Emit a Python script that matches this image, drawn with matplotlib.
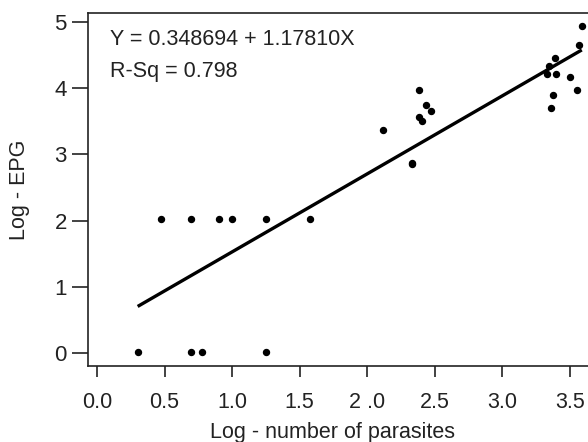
import numpy as np
import matplotlib.pyplot as plt

plt.rcParams['font.family'] = ['Liberation Sans', 'DejaVu Sans']

# log number of parasites / log EPG
log_parasites = [0.301, 0.477, 0.699, 0.903, 1.0, 1.255, 1.58,
                 0.699, 0.778, 1.255,
                 2.121, 2.336, 2.336, 2.385, 2.385, 2.405, 2.435, 2.472,
                 3.336, 3.348, 3.361, 3.376, 3.388, 3.400, 3.499, 3.553,
                 3.573, 3.590]
log_epg = [0.02, 2.02, 2.02, 2.02, 2.02, 2.02, 2.02,
           0.02, 0.02, 0.02,
           3.37, 2.87, 2.86, 3.97, 3.57, 3.51, 3.75, 3.65,
           4.22, 4.34, 3.70, 3.90, 4.46, 4.21, 4.17, 3.97,
           4.66, 4.94]

intercept = 0.348694
slope = 1.17810
fit_x = np.array([0.301, 3.590])

xticks = [0.0, 0.5, 1.0, 1.5, 2.0, 2.5, 3.0, 3.5]
xticklabels = ['0.0', '0.5', '1.0', '1.5', '2 .0', '2.5', '3.0', '3.5']
yticks = [0, 1, 2, 3, 4, 5]

fig = plt.figure(figsize=(5.88, 4.42), dpi=100)
ax = fig.add_axes([0.1497, 0.172, 0.865, 0.7986])

ax.plot(fit_x, intercept + slope * fit_x, color='black', linewidth=2.4, solid_capstyle='butt')
ax.plot(log_parasites, log_epg, 'o', color='black', markersize=4.3)

ax.set_xlim(-0.0667, 3.7)
ax.set_ylim(-0.196, 5.136)
ax.set_xticks(xticks)
ax.set_xticklabels(xticklabels)
ax.set_yticks(yticks)

for s in ax.spines.values():
    s.set_linewidth(1.2)
    s.set_color('#222222')
ax.tick_params(axis='both', direction='out', colors='#222222',
               width=1.2, labelcolor='#222222')
ax.tick_params(axis='y', length=11.5, pad=3.8, labelsize=16)
ax.tick_params(axis='x', length=8, pad=10.5, labelsize=15.5)

ax.text(0.044, 0.925, 'Y = 0.348694 + 1.17810X', transform=ax.transAxes,
        fontsize=15.5, color='#222222', va='center', ha='left')
ax.text(0.044, 0.835, 'R-Sq = 0.798', transform=ax.transAxes,
        fontsize=15.5, color='#222222', va='center', ha='left')

fig.text(332 / 588, 1 - 438 / 442, 'Log - number of parasites', fontsize=15.5,
         color='#222222', ha='center', va='baseline')
fig.text(25 / 588, 1 - 190 / 442, 'Log - EPG', fontsize=15.5, rotation=90,
         rotation_mode='anchor', color='#222222', ha='center', va='baseline')

fig.savefig('out.png', dpi=100)
